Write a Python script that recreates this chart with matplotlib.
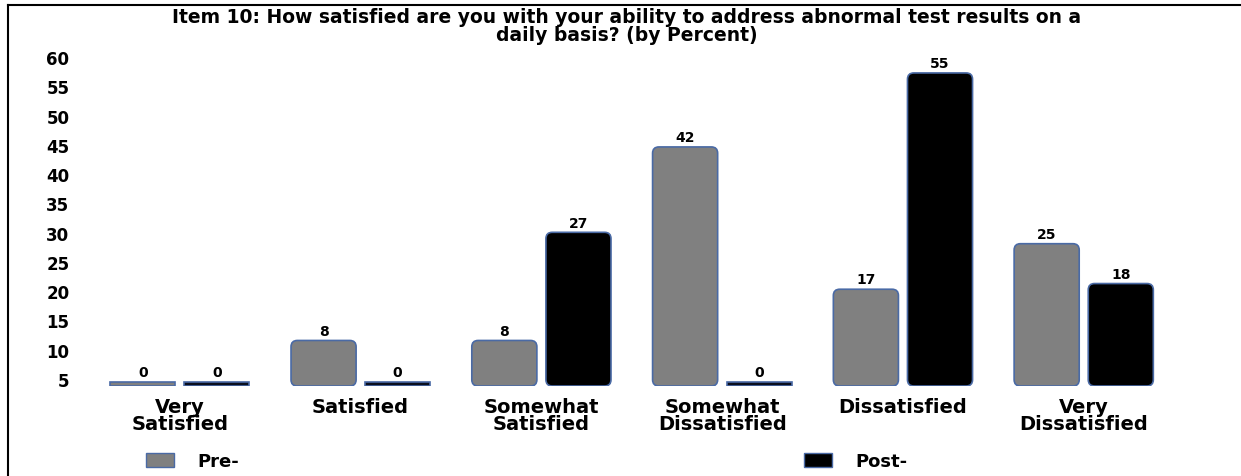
import numpy as np
import matplotlib.pyplot as plt
from matplotlib.patches import FancyBboxPatch, Patch
from matplotlib.lines import Line2D

plt.rcParams['font.family'] = ['DejaVu Sans']
plt.rcParams['font.weight'] = 'bold'

# Survey data (percent)
categories = ["Very\nSatisfied", "Satisfied", "Somewhat\nSatisfied",
              "Somewhat\nDissatisfied", "Dissatisfied", "Very\nDissatisfied"]
pre = [0, 8, 8, 42, 17, 25]
post = [0, 0, 27, 0, 55, 18]
yticks = [5, 10, 15, 20, 25, 30, 35, 40, 45, 50, 55, 60]

gray = '#808080'
edge = '#4a6aa5'
W, H = 1241, 477

fig = plt.figure(figsize=(W / 100, H / 100), dpi=100)
ax = fig.add_axes([75 / W, 1 - 387 / H, 1 - 75 / W, 329 / H])

x = np.arange(len(categories))
w = 0.36
min_h = 0.7  # zero bars still show as a thin strip
b1 = ax.bar(x - 0.205, np.maximum(pre, min_h), w, color=gray, edgecolor=edge, linewidth=1.2)
b2 = ax.bar(x + 0.205, np.maximum(post, min_h), w, color='#0a0f1e', edgecolor=edge, linewidth=1.2)


def round_bars(bars, values, color):
    # swap plain rectangles for rounded ones
    for rect, v in zip(bars, values):
        if v > 0:
            rect.set_visible(False)
            ax.add_patch(FancyBboxPatch((rect.get_x(), 0), rect.get_width(), rect.get_height(),
                                        boxstyle='round,pad=0,rounding_size=0.035',
                                        mutation_aspect=31.8, fc=color, ec=edge, lw=1.2))


round_bars(b1, pre, gray)
round_bars(b2, post, 'black')

ax.bar_label(b1, labels=[str(v) for v in pre], padding=2, fontsize=10, fontweight='bold')
ax.bar_label(b2, labels=[str(v) for v in post], padding=2, fontsize=10, fontweight='bold')

ax.set_xlim(-0.58, 5.87)
ax.set_ylim(0, 57.8)
ax.set_xticks(x, categories)
ax.tick_params(axis='x', length=0, pad=8, labelsize=14)
for t in ax.get_xticklabels():
    t.set_linespacing(0.88)
ax.set_yticks([])
for s in ax.spines.values():
    s.set_visible(False)

# value scale drawn on the left
ax2 = ax.twinx()
ax2.set_ylim(3.8, 60)
ax2.set_yticks(yticks)
ax2.yaxis.tick_left()
ax2.tick_params(axis='y', length=0, pad=4, labelsize=12)
for s in ax2.spines.values():
    s.set_visible(False)

fig.text(0.505, 1 - 8 / H,
         "Item 10: How satisfied are you with your ability to address abnormal test results on a\n"
         "daily basis? (by Percent)",
         ha='center', va='top', fontsize=13.5, fontweight='bold', linespacing=0.95)

# frame lines (top and left)
fig.add_artist(Line2D([8 / W, 1], [1 - 6 / H, 1 - 6 / H], color='black', lw=1.5, transform=fig.transFigure))
fig.add_artist(Line2D([8 / W, 8 / W], [0, 1 - 6 / H], color='black', lw=1.5, transform=fig.transFigure))

leg_kw = dict(loc='center left', frameon=False, handlelength=1.55, handleheight=0.85,
              handletextpad=1.3, borderpad=0, borderaxespad=0, prop={'weight': 'bold', 'size': 13})
fig.legend([Patch(fc=gray, ec=edge)], ['Pre-'], bbox_to_anchor=(146 / W, 1 - 462 / H), **leg_kw)
fig.legend([Patch(fc='black', ec=edge)], ['Post-'], bbox_to_anchor=(804 / W, 1 - 462 / H), **leg_kw)

fig.savefig('out.png', dpi=100)
